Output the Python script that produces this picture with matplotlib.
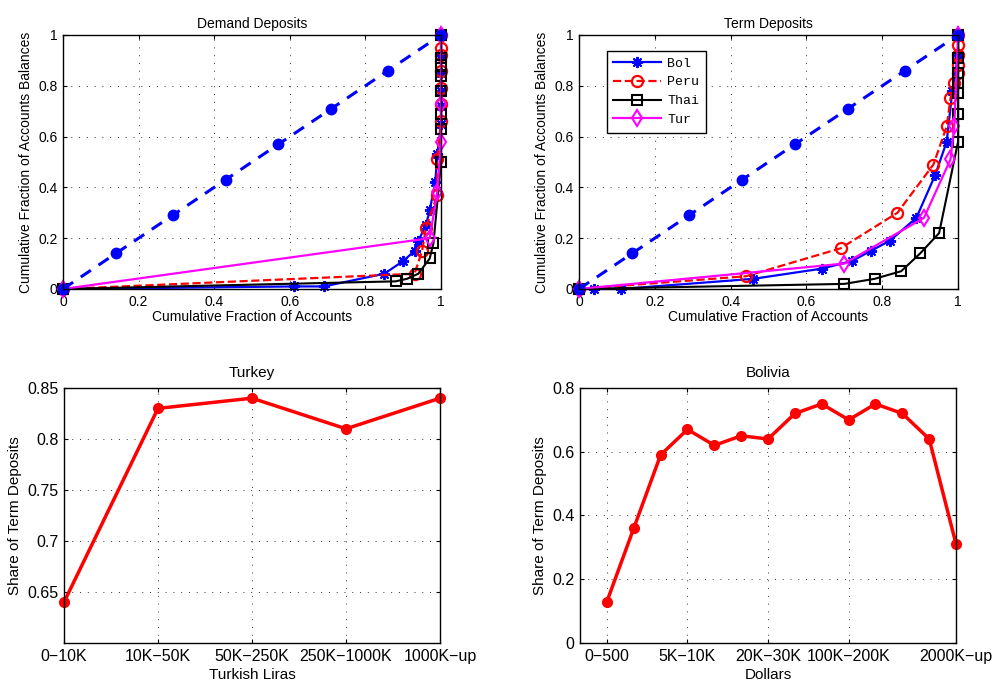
import numpy as np
import matplotlib
matplotlib.use('Agg')
import matplotlib.pyplot as plt

plt.rcParams['font.family'] = ['Liberation Sans', 'DejaVu Sans']

# Linha de igualdade (45 graus)
eq_x = [0, 0.14, 0.29, 0.43, 0.57, 0.71, 0.86, 1.0]
eq_y = [0, 0.14, 0.29, 0.43, 0.57, 0.71, 0.86, 1.0]

# Demand deposits
bol_dd_x = [0, 0.61, 0.69, 0.85, 0.90, 0.93, 0.94, 0.96, 0.97, 0.985, 0.99, 1.0, 1.0, 1.0, 1.0, 1.0, 1.0]
bol_dd_y = [0, 0.01, 0.01, 0.06, 0.11, 0.15, 0.19, 0.25, 0.31, 0.42, 0.53, 0.65, 0.72, 0.78, 0.85, 0.92, 1.0]
peru_dd_x = [0, 0.93, 0.95, 0.96, 0.99, 0.99, 1.0, 1.0, 1.0, 1.0, 1.0, 1.0, 1.0]
peru_dd_y = [0, 0.06, 0.15, 0.24, 0.37, 0.51, 0.66, 0.73, 0.79, 0.86, 0.92, 0.95, 1.0]
thai_dd_x = [0, 0.88, 0.91, 0.94, 0.97, 0.98, 1.0, 1.0, 1.0, 1.0, 1.0, 1.0, 1.0, 1.0]
thai_dd_y = [0, 0.03, 0.04, 0.06, 0.12, 0.18, 0.50, 0.63, 0.69, 0.78, 0.84, 0.88, 0.91, 1.0]
tur_dd_x = [0, 0.97, 0.99, 1.0, 1.0, 1.0]
tur_dd_y = [0, 0.20, 0.38, 0.58, 0.73, 1.0]

# Term deposits
bol_td_x = [0, 0.04, 0.11, 0.46, 0.64, 0.72, 0.77, 0.82, 0.89, 0.94, 0.97, 0.985, 1.0, 1.0]
bol_td_y = [0, 0, 0, 0.04, 0.08, 0.11, 0.15, 0.19, 0.28, 0.45, 0.58, 0.78, 0.92, 1.0]
peru_td_x = [0, 0.44, 0.69, 0.84, 0.935, 0.97, 0.98, 0.99, 1.0, 1.0, 1.0, 1.0, 1.0]
peru_td_y = [0, 0.05, 0.16, 0.30, 0.49, 0.64, 0.75, 0.81, 0.85, 0.88, 0.92, 0.96, 1.0]
thai_td_x = [0, 0.70, 0.78, 0.85, 0.90, 0.95, 1.0, 1.0, 1.0, 1.0, 1.0, 1.0, 1.0]
thai_td_y = [0, 0.02, 0.04, 0.07, 0.14, 0.22, 0.58, 0.69, 0.77, 0.81, 0.85, 0.91, 1.0]
tur_td_x = [0, 0.70, 0.91, 0.98, 0.99, 1.0]
tur_td_y = [0, 0.10, 0.28, 0.51, 0.64, 1.0]

# Turquia
tur_labels = ['0\u221210K', '10K\u221250K', '50K\u2212250K', '250K\u22121000K', '1000K\u2212up']
tur_share = [0.64, 0.83, 0.84, 0.81, 0.84]

# Bolivia
bol_share = [0.13, 0.36, 0.59, 0.67, 0.62, 0.65, 0.64, 0.72, 0.75, 0.70, 0.75, 0.72, 0.64, 0.31]
bol_tick_pos = [1, 4, 7, 10, 14]
bol_tick_labels = ['0\u2212500', '5K\u221210K', '20K\u221230K', '100K\u2212200K', '2000K\u2212up']

fig = plt.figure(figsize=(10.03, 6.9), dpi=100)

def estilo(ax, fs):
    ax.grid(True, linestyle=(0, (1, 7)), color='#333333', linewidth=0.7)
    ax.tick_params(direction='in', top=True, right=True, labelsize=fs, length=3, pad=4)
    for s in ax.spines.values():
        s.set_linewidth(1.0)

estrela = (8, 2, 0)

def lorenz(ax, dados, titulo):
    ax.plot(dados[0][0], dados[0][1], '-', color='blue', marker=estrela, ms=8, mew=1.4, lw=1.6,
            label='Bol', clip_on=False)
    ax.plot(dados[1][0], dados[1][1], '--', color='red', marker='o', ms=8, mfc='none', mew=1.6, lw=1.6,
            label='Peru', clip_on=False)
    ax.plot(dados[2][0], dados[2][1], '-', color='black', marker='s', ms=7, mfc='none', mew=1.5, lw=1.5,
            label='Thai', clip_on=False)
    ax.plot(dados[3][0], dados[3][1], '-', color='magenta', marker='d', ms=8, mfc='none', mew=1.5, lw=1.6,
            label='Tur', clip_on=False)
    ax.plot(eq_x, eq_y, '--', color='blue', marker='o', ms=7.5, lw=2.2, dashes=(4, 3), clip_on=False)
    ax.set_xlim(0, 1)
    ax.set_ylim(0, 1)
    ticks = [0, 0.2, 0.4, 0.6, 0.8, 1]
    ax.set_xticks(ticks)
    ax.set_yticks(ticks)
    ax.set_xticklabels(['0', '0.2', '0.4', '0.6', '0.8', '1'])
    ax.set_yticklabels(['0', '0.2', '0.4', '0.6', '0.8', '1'])
    estilo(ax, 10)
    ax.set_title(titulo, fontsize=10, pad=5)
    ax.set_xlabel('Cumulative Fraction of Accounts', fontsize=10, labelpad=1)
    ax.set_ylabel('Cumulative Fraction of Accounts Balances', fontsize=10, labelpad=4)

ax1 = fig.add_axes([0.0628, 0.5812, 0.3769, 0.3681])
lorenz(ax1, [(bol_dd_x, bol_dd_y), (peru_dd_x, peru_dd_y), (thai_dd_x, thai_dd_y), (tur_dd_x, tur_dd_y)],
       'Demand Deposits')

ax2 = fig.add_axes([0.5773, 0.5812, 0.3779, 0.3681])
lorenz(ax2, [(bol_td_x, bol_td_y), (peru_td_x, peru_td_y), (thai_td_x, thai_td_y), (tur_td_x, tur_td_y)],
       'Term Deposits')
leg = ax2.legend(loc='upper left', bbox_to_anchor=(0.073, 0.938), borderaxespad=0,
                 prop={'family': 'Liberation Mono', 'size': 9.5}, fancybox=False,
                 edgecolor='black', framealpha=1, handlelength=3.6, labelspacing=0.5,
                 handletextpad=0.5, borderpad=0.5)
leg.get_frame().set_linewidth(1.0)

# Turquia
ax3 = fig.add_axes([0.0638, 0.0681, 0.3749, 0.3696])
x3 = np.arange(1, len(tur_share) + 1)
ax3.plot(x3, tur_share, '-', color='red', marker='o', ms=7, lw=2.5, clip_on=False)
ax3.set_xlim(1, 5)
ax3.set_ylim(0.6, 0.85)
ax3.set_xticks(x3)
ax3.set_xticklabels(tur_labels)
ax3.set_yticks([0.65, 0.7, 0.75, 0.8, 0.85])
ax3.set_yticklabels(['0.65', '0.7', '0.75', '0.8', '0.85'])
estilo(ax3, 11.5)
ax3.set_title('Turkey', fontsize=11, pad=8)
ax3.set_xlabel('Turkish Liras', fontsize=11, labelpad=3)
ax3.set_ylabel('Share of Term Deposits', fontsize=11, labelpad=4)

# Bolivia
ax4 = fig.add_axes([0.5783, 0.0681, 0.3749, 0.3696])
x4 = np.arange(1, len(bol_share) + 1)
ax4.plot(x4, bol_share, '-', color='red', marker='o', ms=7, lw=2.5, clip_on=False)
ax4.set_xlim(0, 14)
ax4.set_ylim(0, 0.8)
ax4.set_xticks(bol_tick_pos)
ax4.set_xticklabels(bol_tick_labels)
ax4.set_yticks([0, 0.2, 0.4, 0.6, 0.8])
ax4.set_yticklabels(['0', '0.2', '0.4', '0.6', '0.8'])
estilo(ax4, 11.5)
ax4.set_title('Bolivia', fontsize=11, pad=8)
ax4.set_xlabel('Dollars', fontsize=11, labelpad=3)
ax4.set_ylabel('Share of Term Deposits', fontsize=11, labelpad=4)

fig.savefig('out.png', dpi=100)
